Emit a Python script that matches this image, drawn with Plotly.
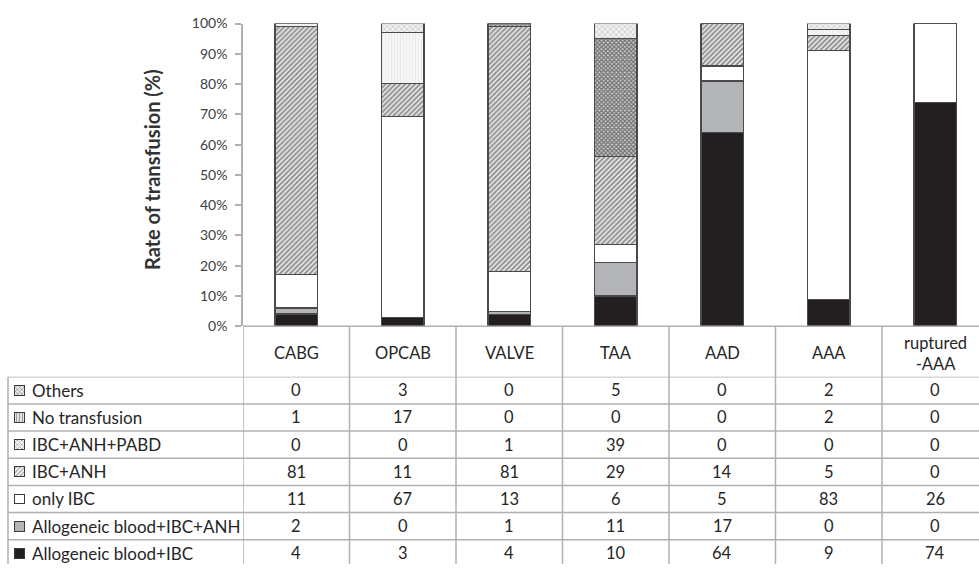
import plotly.graph_objects as go

# ---- data ----
categories = ["CABG", "OPCAB", "VALVE", "TAA", "AAD", "AAA", "ruptured<br>-AAA"]

# stack order: bottom -> top
series_names = [
    "Allogeneic blood+IBC",
    "Allogeneic blood+IBC+ANH",
    "only IBC",
    "IBC+ANH",
    "IBC+ANH+PABD",
    "No transfusion",
    "Others",
]
allo_ibc = [4, 3, 4, 10, 64, 9, 74]
allo_ibc_anh = [2, 0, 1, 11, 17, 0, 0]
only_ibc = [11, 67, 13, 6, 5, 83, 26]
ibc_anh = [81, 11, 81, 29, 14, 5, 0]
ibc_anh_pabd = [0, 0, 1, 39, 0, 0, 0]
no_transfusion = [1, 17, 0, 0, 0, 2, 0]
others = [0, 3, 0, 5, 0, 2, 0]
series_values = [allo_ibc, allo_ibc_anh, only_ibc, ibc_anh, ibc_anh_pabd, no_transfusion, others]

y_ticks = [0, 10, 20, 30, 40, 50, 60, 70, 80, 90, 100]

# ---- styles ----
styles = {
    "Allogeneic blood+IBC": dict(color="#231f20"),
    "Allogeneic blood+IBC+ANH": dict(color="#b3b4b7"),
    "only IBC": dict(color="#ffffff"),
    "IBC+ANH": dict(color="#ffffff", pattern=dict(shape="/", size=3.5, solidity=0.55,
                                                  fgcolor="#262626", bgcolor="#f2f2f2", fillmode="overlay")),
    "IBC+ANH+PABD": dict(color="#ffffff", pattern=dict(shape="x", size=3, solidity=0.65,
                                                       fgcolor="#151515", bgcolor="#d0d0d0", fillmode="overlay")),
    "No transfusion": dict(color="#f3f3f3", pattern=dict(shape="|", size=3, solidity=0.25,
                                                         fgcolor="#d8d8d8", bgcolor="#f6f6f6", fillmode="overlay")),
    "Others": dict(color="#eeeeee", pattern=dict(shape="x", size=4, solidity=0.35,
                                                 fgcolor="#a0a0a0", bgcolor="#f0f0f0", fillmode="overlay")),
}

W, H = 979, 572
FONT = "Lato, 'Open Sans', sans-serif"
LINE = "#b0b0b0"
TXT = "#262626"

# pixel geometry helpers (paper coords)
def px_x(p):
    return p / W

def px_y(p):
    return 1 - p / H

plot_left, col_w = 243, 106.5
y_top_px, y_bot_px = 15, 327
header_bot_px, row_h = 379, 28
n = len(categories)
x_idx = list(range(n))
x_hi = -0.5 + (W - plot_left) / col_w

fig = go.Figure()

for name, vals in zip(series_names, series_values):
    st = styles[name]
    marker = dict(color=st["color"], line=dict(color="#4a4a4a", width=1.2))
    if "pattern" in st:
        marker["pattern"] = st["pattern"]
    fig.add_trace(go.Bar(x=x_idx, y=vals, name=name, marker=marker, width=0.4,
                         showlegend=False, hoverinfo="name+y"))

# legend swatches for the table rows (row 0 = Others at top);
# barnorm turns each unit swatch into a 100-long bar on its own axis
table_rows = list(reversed(series_names))
row_idx = list(range(len(table_rows)))
sw_colors = [styles[r]["color"] for r in table_rows]
sw_shapes = [styles[r].get("pattern", {}).get("shape", "") for r in table_rows]
sw_fg = [styles[r].get("pattern", {}).get("fgcolor", "#000") for r in table_rows]
sw_bg = [styles[r].get("pattern", {}).get("bgcolor", styles[r]["color"]) for r in table_rows]
fig.add_trace(go.Bar(
    x=[1] * len(table_rows), y=row_idx, orientation="h", width=0.36,
    marker=dict(color=sw_colors, line=dict(color="#3a3a3a", width=1),
                pattern=dict(shape=sw_shapes, fgcolor=sw_fg, bgcolor=sw_bg, size=3, solidity=0.45,
                             fillmode="overlay")),
    xaxis="x3", yaxis="y3", showlegend=False, hoverinfo="skip"))

fig.update_layout(
    width=W, height=H,
    margin=dict(l=0, r=0, t=0, b=0),
    paper_bgcolor="white", plot_bgcolor="rgba(0,0,0,0)",
    barmode="stack", barnorm="percent",
    font=dict(family=FONT, color=TXT),
    xaxis=dict(domain=[px_x(plot_left), 1], range=[-0.5, x_hi], showticklabels=False,
               showgrid=False, zeroline=False, showline=False, ticks=""),
    yaxis=dict(domain=[px_y(y_bot_px), px_y(y_top_px)], range=[0, 100],
               tickvals=y_ticks, ticktext=[f"{v}%" for v in y_ticks],
               ticks="outside", ticklen=6, tickcolor=LINE, tickwidth=1.5,
               ticklabelstandoff=5,
               showline=True, linecolor=LINE, linewidth=1.5,
               showgrid=False, zeroline=False,
               tickfont=dict(size=14, color="#404040", family=FONT)),
    xaxis3=dict(domain=[px_x(9), px_x(29)], range=[-50, 150], visible=False, anchor="y3"),
    yaxis3=dict(domain=[0, px_y(header_bot_px)],
                range=[-0.5 + (H - header_bot_px) / row_h, -0.5], visible=False, anchor="x3"),
)

shapes = []
# x-axis baseline across the category columns
shapes.append(dict(type="line", xref="paper", yref="paper", x0=px_x(plot_left), x1=1,
                   y0=px_y(y_bot_px), y1=px_y(y_bot_px), line=dict(color=LINE, width=1.5)))
# vertical column lines through header and table
for i in range(n + 1):
    shapes.append(dict(type="line", xref="x", yref="paper", x0=i - 0.5, x1=i - 0.5,
                       y0=0, y1=px_y(y_bot_px), line=dict(color=LINE, width=1.5)))
# label column left border
shapes.append(dict(type="line", xref="paper", yref="paper", x0=px_x(8), x1=px_x(8),
                   y0=0, y1=px_y(header_bot_px), line=dict(color=LINE, width=1.5)))
# horizontal row lines
for k in range(len(table_rows)):
    shapes.append(dict(type="line", xref="paper", yref="y3", x0=px_x(8), x1=1,
                       y0=k - 0.5, y1=k - 0.5, line=dict(color=LINE, width=1.5)))
fig.update_layout(shapes=shapes)

ann = []
# header category names
for i, c in enumerate(categories):
    ann.append(dict(x=i, y=px_y(355), xref="x", yref="paper", text=c, showarrow=False,
                    font=dict(size=16.5, color=TXT, family=FONT), xanchor="center", yanchor="middle"))
# row labels and values
for k, r in enumerate(table_rows):
    ann.append(dict(x=px_x(30), y=k, xref="paper", yref="y3", text=r, showarrow=False,
                    font=dict(size=17, color=TXT, family=FONT), xanchor="left", yanchor="middle"))
    vals = series_values[series_names.index(r)]
    for i, v in enumerate(vals):
        ann.append(dict(x=i, y=k, xref="x", yref="y3", text=str(v), showarrow=False,
                        font=dict(size=16.5, color=TXT, family=FONT), xanchor="center", yanchor="middle"))
# y-axis title
ann.append(dict(x=px_x(152), y=px_y(166), xref="paper", yref="paper", text="<b>Rate of transfusion (%)</b>",
                textangle=-90, showarrow=False, font=dict(size=20, color="#333333", family=FONT),
                xanchor="center", yanchor="middle"))
fig.update_layout(annotations=ann)

fig.write_html("out.html")
